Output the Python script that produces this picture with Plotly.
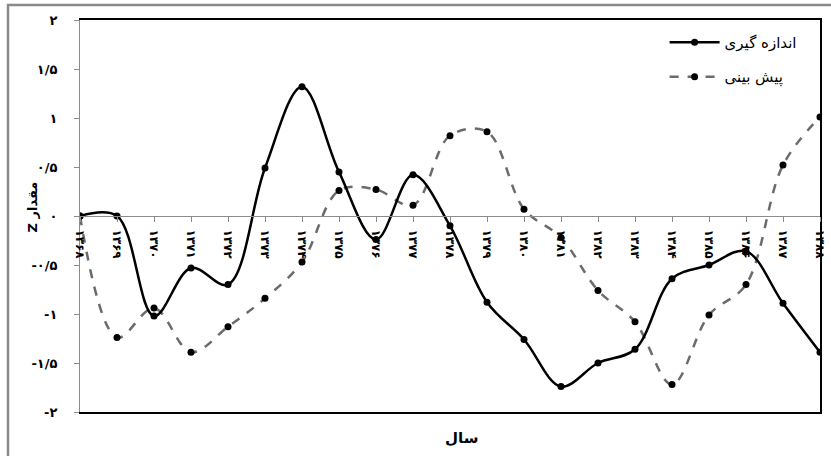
import plotly.graph_objects as go

years = ["۱۳۶۸", "۱۳۶۹", "۱۳۷۰", "۱۳۷۱", "۱۳۷۲", "۱۳۷۳", "۱۳۷۴", "۱۳۷۵", "۱۳۷۶", "۱۳۷۷", "۱۳۷۸",
         "۱۳۷۹", "۱۳۸۰", "۱۳۸۱", "۱۳۸۲", "۱۳۸۳", "۱۳۸۴", "۱۳۸۵", "۱۳۸۶", "۱۳۸۷", "۱۳۸۸"]
measured = [0.0, 0.0, -1.02, -0.53, -0.70, 0.49, 1.32, 0.45, -0.24, 0.42, -0.10,
            -0.88, -1.26, -1.74, -1.50, -1.36, -0.64, -0.50, -0.36, -0.89, -1.39]
predicted = [0.0, -1.24, -0.94, -1.39, -1.13, -0.84, -0.47, 0.26, 0.27, 0.11, 0.82,
             0.86, 0.07, -0.22, -0.76, -1.08, -1.72, -1.01, -0.70, 0.52, 1.01]
y_ticks = [2, 1.5, 1, 0.5, 0, -0.5, -1, -1.5, -2]
y_tick_labels = ["۲", "۱/۵", "۱", "۰/۵", "۰", "-۰/۵", "-۱", "-۱/۵", "-۲"]
name_measured = "اندازه گیری"
name_predicted = "پیش بینی"
x_title = "سال"
y_title = "Z مقدار"

FONT = "DejaVu Sans"
idx = list(range(len(years)))

fig = go.Figure()
# invisible trace that carries the frame axes
fig.add_trace(go.Scatter(x=[0, 20], y=[-2, 2], xaxis="x2", yaxis="y2", mode="markers",
                         marker=dict(opacity=0), showlegend=False, hoverinfo="skip"))
fig.add_trace(go.Scatter(
    x=idx, y=predicted, name=name_predicted, mode="lines+markers",
    line=dict(color="#6b6b6b", width=2.5, dash="dash", shape="spline", smoothing=1.0),
    marker=dict(color="black", size=7), legendgroup="b", legendrank=2,
))
fig.add_trace(go.Scatter(
    x=idx, y=measured, name=name_measured, mode="lines+markers",
    line=dict(color="black", width=2.5, shape="spline", smoothing=1.0),
    marker=dict(color="black", size=7), legendgroup="a", legendrank=1,
))

fig.update_layout(
    width=831, height=456,
    margin=dict(l=80, r=11, t=20, b=44, autoexpand=False),
    paper_bgcolor="white", plot_bgcolor="white",
    font=dict(family=FONT, color="black"),
    showlegend=True,
    legend=dict(x=0.79, y=0.985, xanchor="left", yanchor="top",
                bgcolor="rgba(0,0,0,0)", font=dict(size=15, family=FONT),
                tracegroupgap=12, traceorder="grouped", itemwidth=50),
    xaxis=dict(
        range=[0, 20], tickmode="array", tickvals=idx, ticktext=years,
        tickangle=90, tickfont=dict(size=12, family=FONT, weight="bold"),
        showgrid=False, zeroline=False, showline=True, linecolor="#8c8c8c", linewidth=1,
        ticks="outside", ticklen=5, tickcolor="#8c8c8c",
        anchor="free", position=0.5, ticklabelstandoff=5, automargin=False,
    ),
    yaxis=dict(
        range=[-2, 2], tickmode="array", tickvals=y_ticks, ticktext=y_tick_labels,
        tickfont=dict(size=13, family=FONT, weight="bold"),
        showgrid=False, zeroline=False, showline=True, linecolor="#8c8c8c", linewidth=1,
        ticks="outside", ticklen=5, tickcolor="#8c8c8c", ticklabelstandoff=14,
        automargin=False,
    ),
    xaxis2=dict(range=[0, 20], overlaying="x", anchor="y2", side="bottom",
                showline=True, linecolor="black", linewidth=1.5, mirror=True,
                showticklabels=False, ticks="", showgrid=False, zeroline=False,
                automargin=False),
    yaxis2=dict(range=[-2, 2], overlaying="y", anchor="x2", side="right",
                showline=True, linecolor="black", linewidth=1.5,
                showticklabels=False, ticks="", showgrid=False, zeroline=False,
                automargin=False),
    shapes=[
        dict(type="rect", xref="paper", yref="paper",
             x0=(8 - 80) / 740, x1=(838 - 80) / 740,
             y0=(412 - 464) / 392, y1=(412 - 5) / 392,
             line=dict(color="#8a8a8a", width=2.5), layer="above"),
    ],
)

fig.add_annotation(text=x_title, xref="paper", yref="paper", x=(462 - 80) / 740,
                   y=(412 - 449) / 392, showarrow=False,
                   font=dict(size=15, family=FONT, weight="bold"))
fig.add_annotation(text=y_title, xref="paper", yref="paper", x=(22 - 80) / 740,
                   y=(412 - 207) / 392, showarrow=False, textangle=-90,
                   font=dict(size=13, family=FONT, weight="bold"))

fig.write_html("out.html", post_script="document.body.style.margin='0px';",
               config={"displayModeBar": False})
